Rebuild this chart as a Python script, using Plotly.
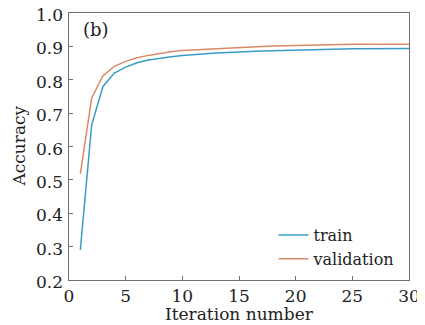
import plotly.graph_objects as go

iterations = list(range(1, 31))
train = [0.29, 0.665, 0.78, 0.82, 0.838, 0.851, 0.859, 0.865, 0.869, 0.873,
         0.876, 0.878, 0.880, 0.882, 0.884, 0.885, 0.886, 0.887, 0.888, 0.889,
         0.889, 0.890, 0.893, 0.893, 0.893, 0.893, 0.893, 0.894, 0.894, 0.894]
validation = [0.518, 0.745, 0.812, 0.84, 0.855, 0.866, 0.873, 0.879, 0.884, 0.888,
              0.890, 0.892, 0.894, 0.896, 0.898, 0.899, 0.900, 0.901, 0.902, 0.903,
              0.904, 0.905, 0.906, 0.906, 0.906, 0.906, 0.906, 0.906, 0.906, 0.906]

x_ticks = [0, 5, 10, 15, 20, 25, 30]
y_ticks = [0.2, 0.3, 0.4, 0.5, 0.6, 0.7, 0.8, 0.9, 1.0]
y_tick_labels = [f"{v:.1f}" for v in y_ticks]

FONT = "DejaVu Serif"
TXT = "#222222"

fig = go.Figure()
fig.add_trace(go.Scatter(x=iterations, y=train, mode="lines", name="train",
                         line=dict(color="#3a9cc6", width=1.5)))
fig.add_trace(go.Scatter(x=iterations, y=validation, mode="lines", name="validation",
                         line=dict(color="#d98a68", width=1.5)))

axis_common = dict(showline=True, linecolor="#707070", linewidth=1.2, mirror=True,
                   ticks="inside", ticklen=4, tickcolor="#707070", showgrid=False,
                   zeroline=False, automargin=False, ticklabeloverflow="allow",
                   tickfont=dict(family=FONT, size=17, color=TXT))

# y tick labels as text placed on the y axis scale (slightly below each tick, like the original)
y_label_annots = [
    dict(text=lab, x=0, y=val, xref="paper", yref="y", xanchor="right",
         yanchor="middle", xshift=-4, yshift=-2, showarrow=False,
         font=dict(family=FONT, size=17, color=TXT))
    for val, lab in zip(y_ticks, y_tick_labels)
]

# page body has an 8px margin, so the figure is sized to fit the 425x325 window
fig.update_layout(
    width=417, height=317,
    margin=dict(l=61, r=16, t=5, b=45),
    paper_bgcolor="white", plot_bgcolor="white",
    font=dict(family=FONT, color=TXT),
    xaxis=dict(range=[0, 30], tickvals=x_ticks, ticktext=[str(v) for v in x_ticks],
               **axis_common),
    yaxis=dict(range=[0.2, 1.0], tickvals=y_ticks, showticklabels=False,
               **axis_common),
    legend=dict(x=0.975, y=0.015, xanchor="right", yanchor="bottom",
                bgcolor="rgba(0,0,0,0)", font=dict(family=FONT, size=16, color=TXT),
                tracegroupgap=0, itemwidth=30),
    annotations=y_label_annots + [
        dict(text="(b)", x=0.035, y=0.985, xref="paper", yref="paper",
             xanchor="left", yanchor="top", showarrow=False,
             font=dict(family=FONT, size=18, color=TXT)),
        dict(text="Iteration number", x=0.5, y=0, xref="paper", yref="paper",
             xanchor="center", yanchor="top", yshift=-22, showarrow=False,
             font=dict(family=FONT, size=17, color=TXT)),
        dict(text="Accuracy", x=0, y=0.5, xref="paper", yref="paper",
             xanchor="center", yanchor="middle", xshift=-51, textangle=-90,
             showarrow=False, font=dict(family=FONT, size=17, color=TXT)),
    ],
)

fig.write_html("out.html")
